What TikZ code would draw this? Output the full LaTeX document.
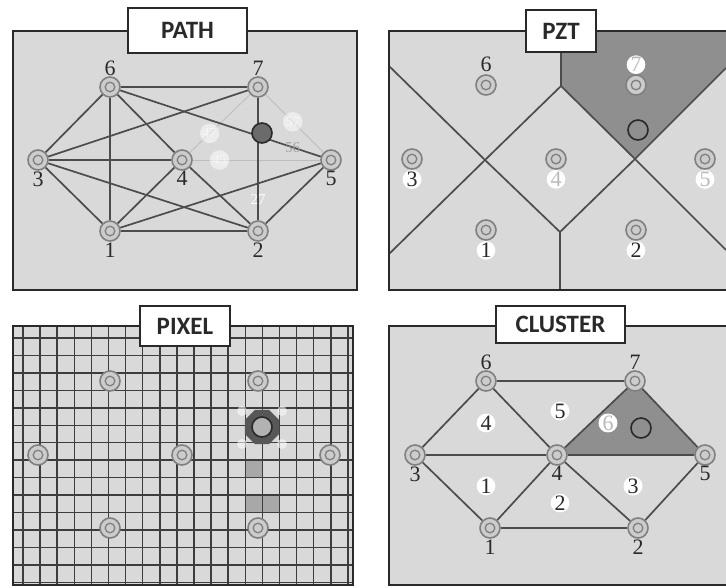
\documentclass[tikz,border=0pt]{standalone}
\usepackage{fontspec}
\setmainfont{Liberation Serif}
\newfontfamily\headfont{Carlito}
\usetikzlibrary{shapes.geometric,backgrounds}

\definecolor{panel}{gray}{0.85}
\definecolor{zone}{gray}{0.56}
\definecolor{wire}{gray}{0.30}
\definecolor{rim}{gray}{0.16}
\definecolor{ring}{gray}{0.50}
\definecolor{core}{gray}{0.80}
\definecolor{haze}{gray}{0.74}
\definecolor{meshline}{gray}{0.24}
\definecolor{cellgray}{gray}{0.66}

\tikzset{sensor/.style = {shape=circle,draw=ring,fill=core,line width=1.6pt,minimum size=20pt,inner sep=0pt,
    path picture={\draw[ring,line width=1.3pt] (path picture bounding box.center) circle (4.8pt);}}}
\tikzset{link/.style = {draw=wire,line width=1.7pt}}
\tikzset{faint/.style = {draw=haze,line width=0.8pt}}
\tikzset{frame/.style = {draw=rim,line width=2.4pt}}
\tikzset{head/.style = {draw=rim,line width=1.3pt,fill=white,inner sep=0pt,text=rim,
    font=\headfont\bfseries\fontsize{25}{30}\selectfont}}
\tikzset{num/.style = {font=\fontsize{22}{24}\selectfont,text=rim,inner sep=0.5pt}}
\tikzset{tag/.style = {num,shape=circle,fill=white,inner sep=0.2pt}}
\tikzset{ghost/.style = {shape=circle,fill=white,fill opacity=.5,text opacity=.6,text=white,inner sep=1pt,
    font=\fontsize{14}{14}\selectfont}}
\tikzset{target/.style = {shape=circle,draw=rim,line width=1.6pt,minimum size=20pt,inner sep=0pt}}
\tikzset{mesh/.style = {draw=meshline,line width=1.5pt}}

\begin{document}
\begin{tikzpicture}[x=1pt,y=-1pt]
  \useasboundingbox (0,0) rectangle (726,587);
  \begin{pgfonlayer}{background}
    \fill[white] (0,0) rectangle (726,587);
    \fill[panel] (13,31) rectangle (357,290);
    \fill[panel] (389,31) rectangle (726,290);
    \fill[panel] (13,326) rectangle (353,585);
    \fill[panel] (389,326) rectangle (726,585);
  \end{pgfonlayer}

  % PATH
  \begin{scope}[shift={(13,31)}]
    \foreach \n/\x/\y/\pos in {1/97/200/below,2/245/200/below,3/25/129/below,4/169/129/below,
                               5/318/129/below,6/97/56/above,7/245/56/above}
      \node[sensor,label={[num]\pos:\n}] (p\n) at (\x,\y) {};
  \end{scope}
  \foreach \a/\b in {6/7,6/3,6/1,6/4,7/3,3/4,3/1,3/2,1/4,1/5,1/2,4/2,5/2}
    \draw[link] (p\a) -- (p\b);
  \foreach \a/\b/\t/\s in {7/4/.67/47,4/5/.21/45,7/5/.47/57}
    \draw[faint] (p\a) -- (p\b) node[ghost,pos=\t] {\s};
  \draw[link] (p6) -- (p5) node[pos=.86,font=\fontsize{15}{15}\selectfont,text=gray!75] {56};
  \draw[link] (p7) -- (p2) node[pos=.83,font=\fontsize{15}{15}\selectfont,text=white] {27};
  \node[target,fill=gray!55!black!80] (hit1) at (262,133) {};
  \draw[frame] (13,31) rectangle (357,290);

  % PZT
  \coordinate (u) at (561,86);
  \coordinate (xa) at (485,160);
  \coordinate (v) at (560,232);
  \coordinate (xb) at (635,159);
  \fill[zone] (561,31) -- (u) -- (xb) -- (726,68) -- (726,31) -- cycle;
  \draw[link] (389,66) -- (xa) -- (v) -- (xb) -- (726,250);
  \draw[link] (389,254) -- (xa) -- (u) -- (xb) -- (726,68);
  \draw[link] (561,31) -- (u);
  \draw[link] (v) -- (560,290);
  \begin{scope}[shift={(389,31)}]
    \foreach \n/\x/\y/\pos/\ink/\bg in {1/97/199/below/rim/white,2/247/199/below/rim/white,
        3/23/128/below/rim/white,4/167/128/below/gray!55/white,5/316/128/below/gray!55/white,
        6/97/54/above/rim/panel,7/247/54/above/gray!55/white}
      \node[sensor,label={[tag,fill=\bg,text=\ink]\pos:\n}] (z\n) at (\x,\y) {};
  \end{scope}
  \node[target] (hit2) at (638,130) {};
  \draw[frame] (726,31) -- (389,31) -- (389,290) -- (726,290);

  % PIXEL
  \fill[cellgray] (245.3,460) rectangle (262.4,477.4);
  \fill[cellgray] (245.3,495) rectangle (279.5,512.4);
  \begin{scope}
    \clip (13,326) rectangle (353,585);
    \foreach \k in {0,...,19}
      \draw[mesh] ({23+17.1*\k},326) -- ({23+17.1*\k},585);
    \foreach \k in {0,...,14}
      \draw[mesh] (13,{338+17.45*\k}) -- (353,{338+17.45*\k});
  \end{scope}
  \node[regular polygon,regular polygon sides=8,minimum size=37pt,inner sep=0pt,fill=gray!45!black!85] (blob) at (262,427) {};
  \foreach \dx/\dy in {-20/-16,20/-16,-20/17,20/17}
    \fill[white,opacity=.55] (262+\dx,427+\dy) circle (5pt);
  \node[target,fill=gray!60] (hit3) at (blob) {};
  \begin{scope}[shift={(13,326)}]
    \foreach \n/\x/\y in {1/97/202,2/245/202,3/25/129,4/169/129,5/317/129,6/97/55,7/245/55}
      \node[sensor] (x\n) at (\x,\y) {};
  \end{scope}
  \draw[frame] (13,326) rectangle (353,585);

  % CLUSTER
  \begin{scope}[shift={(389,326)}]
    \foreach \n/\x/\y/\pos in {1/101/202/below,2/249/202/below,3/26/129/below,4/168/129/below,
                               5/316/129/below,6/97/55/above,7/246/55/above}
      \node[sensor,label={[num]\pos:\n}] (c\n) at (\x,\y) {};
    \foreach \s/\x/\y/\ink in {4/97/97/rim,5/171/85/rim,6/219/97/gray!55,1/97/160/rim,2/171/177/rim,3/244/160/rim}
      \node[tag,text=\ink] (r\s) at (\x,\y) {\s};
  \end{scope}
  \begin{pgfonlayer}{background}
    \fill[zone] (c4.center) -- (c7.center) -- (c5.center) -- cycle;
  \end{pgfonlayer}
  \foreach \a/\b in {6/7,6/3,6/4,3/4,3/1,1/4,1/2,4/2,2/5,4/7,7/5,4/5}
    \draw[link] (c\a) -- (c\b);
  \node[target] (hit4) at (641,428) {};
  \draw[frame] (726,326) -- (389,326) -- (389,585) -- (726,585);

  % titles
  \node[head,minimum width=119pt,minimum height=45pt] (tpath) at (187.5,30.5) {PATH};
  \node[head,minimum width=70pt,minimum height=42pt] (tpzt) at (561,31) {PZT};
  \node[head,minimum width=90pt,minimum height=40pt] (tpixel) at (185,326) {PIXEL};
  \node[head,minimum width=129pt,minimum height=37pt] (tcluster) at (560.5,324.5) {CLUSTER};
\end{tikzpicture}
\end{document}
